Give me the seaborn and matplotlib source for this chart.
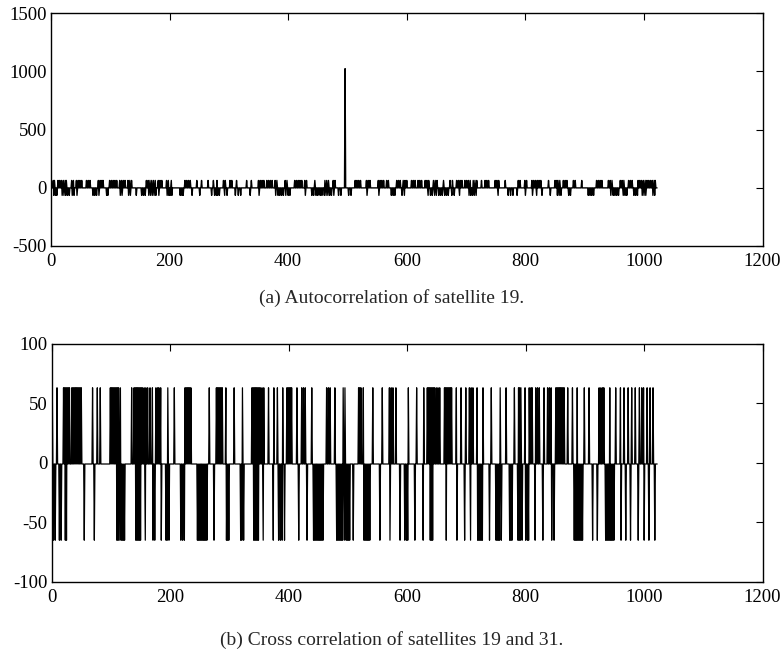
import numpy as np
import pandas as pd
import matplotlib
matplotlib.use("Agg")
import matplotlib.pyplot as plt
import seaborn as sns

# code length (chips) and the three correlation levels of a Gold code
n_chips = 1023
base_level = -1
high_level = 63
low_level = -65

# (a) autocorrelation of satellite 19: main peak and side lobes
peak_lag_a = 496
peak_value_a = 1023
up_lags_a = [4, 6, 12, 15, 18, 21, 24, 26, 35, 38, 43, 46, 49, 52, 60, 63, 66,
             80, 83, 86, 88, 99, 102, 105, 108, 111, 116, 119, 122, 125, 130,
             133, 136, 161, 164, 167, 170, 173, 176, 181, 184, 187, 195, 198,
             203, 226, 229, 232, 235, 246, 254, 265, 274, 280, 291, 294, 302,
             305, 313, 330, 338, 350, 353, 356, 359, 364, 367, 370, 373, 378,
             381, 395, 398, 411, 414, 417, 420, 423, 428, 431, 445, 462, 465,
             468, 476, 479, 513, 516, 519, 522, 532, 535, 538, 552, 555, 558,
             561, 566, 569, 583, 586, 589, 594, 597, 600, 608, 611, 614, 619,
             622, 625, 631, 634, 637, 645, 648, 651, 662, 673, 677, 684, 687,
             690, 693, 698, 701, 704, 707, 712, 715, 718, 726, 732, 735, 738,
             749, 752, 755, 766, 788, 791, 799, 802, 811, 814, 817, 820, 823,
             826, 839, 850, 853, 855, 858, 864, 867, 870, 881, 884, 895, 920,
             923, 926, 929, 940, 943, 946, 960, 963, 966, 974, 977, 980, 990,
             993, 996, 999, 1002, 1005, 1008, 1011, 1014, 1017, 1019]
down_lags_a = [5, 8, 10, 19, 22, 25, 28, 31, 36, 39, 44, 71, 74, 77, 81, 94, 96,
               117, 120, 131, 134, 144, 153, 156, 159, 165, 168, 171, 174, 177,
               182, 196, 199, 201, 204, 218, 221, 223, 238, 251, 271, 276, 279,
               281, 284, 293, 297, 311, 316, 320, 336, 351, 379, 383, 386, 389,
               392, 396, 400, 403, 429, 440, 443, 447, 450, 454, 457, 461, 464,
               467, 470, 473, 477, 485, 489, 502, 506, 533, 553, 574, 577, 580,
               592, 596, 636, 640, 643, 647, 650, 654, 657, 660, 664, 667, 670,
               676, 680, 689, 705, 708, 711, 714, 717, 754, 771, 775, 779, 786,
               800, 812, 819, 828, 842, 854, 857, 860, 873, 876, 906, 909, 912,
               915, 944, 948, 951, 954, 957, 965, 968, 971, 983, 986, 989, 997,
               1000, 1003, 1015, 1018]

# (b) cross correlation of satellites 19 and 31
up_lags_b = [1, 9, 20, 22, 24, 26, 28, 30, 34, 36, 38, 40, 42, 44, 46, 48, 50,
             69, 77, 82, 99, 101, 103, 105, 107, 109, 111, 113, 116, 135, 139,
             141, 143, 145, 147, 149, 151, 153, 156, 159, 162, 166, 170, 176,
             179, 181, 184, 196, 207, 225, 227, 229, 231, 233, 235, 266, 278,
             280, 282, 284, 286, 288, 294, 308, 322, 338, 340, 342, 344, 346,
             348, 350, 352, 355, 358, 366, 375, 381, 390, 397, 399, 401, 403,
             405, 414, 422, 425, 428, 439, 464, 467, 470, 478, 492, 495, 518,
             520, 522, 526, 542, 558, 570, 573, 576, 581, 602, 616, 628, 634,
             636, 638, 640, 642, 644, 646, 649, 652, 655, 663, 665, 667, 669,
             671, 673, 675, 683, 691, 699, 705, 708, 711, 718, 728, 742, 757,
             767, 781, 788, 790, 792, 799, 806, 809, 811, 817, 820, 823, 831,
             837, 840, 843, 851, 853, 855, 857, 859, 861, 863, 865, 871, 879,
             887, 899, 907, 924, 927, 930, 932, 942, 952, 960, 966, 973, 979,
             985, 992, 996, 999, 1005, 1010, 1015]
down_lags_b = [3, 6, 13, 16, 23, 25, 55, 72, 110, 112, 114, 117, 119, 121, 123,
               142, 144, 146, 148, 150, 158, 171, 174, 185, 193, 195, 198, 218,
               221, 224, 246, 248, 250, 252, 254, 256, 258, 260, 262, 274, 295,
               297, 299, 319, 321, 324, 341, 343, 345, 347, 349, 357, 374, 383,
               386, 389, 393, 417, 431, 442, 444, 446, 448, 450, 452, 454, 456,
               458, 481, 483, 485, 487, 489, 491, 494, 497, 499, 501, 503, 509,
               527, 529, 531, 533, 535, 537, 554, 571, 588, 596, 599, 601, 613,
               627, 639, 641, 643, 666, 684, 697, 707, 719, 721, 723, 725, 727,
               739, 750, 752, 754, 756, 759, 773, 775, 777, 787, 789, 791, 794,
               800, 803, 805, 816, 829, 844, 848, 882, 884, 886, 888, 890, 892,
               894, 896, 913, 921, 935, 937, 939, 941, 943, 945, 947, 949, 961,
               969, 977, 990, 1000, 1008, 1018]

x_ticks = [0, 200, 400, 600, 800, 1000, 1200]
y_ticks_a = [-500, 0, 500, 1000, 1500]
y_ticks_b = [-100, -50, 0, 50, 100]
caption_a = "(a) Autocorrelation of satellite 19."
caption_b = "(b) Cross correlation of satellites 19 and 31."


def build(up, down, peak=None):
    y = np.full(n_chips, base_level)
    y[up] = high_level
    y[down] = low_level
    if peak is not None:
        y[peak[0]] = peak[1]
    return pd.DataFrame({"lag": np.arange(n_chips), "corr": y})


df_a = build(up_lags_a, down_lags_a, (peak_lag_a, peak_value_a))
df_b = build(up_lags_b, down_lags_b)

sns.set_style("white")
plt.rcParams["font.family"] = ["Liberation Serif", "DejaVu Serif"]
plt.rcParams["axes.unicode_minus"] = False

fig = plt.figure(figsize=(7.83, 6.56), dpi=100)
ax_a = fig.add_axes([0.065, 0.625, 0.909, 0.355])
ax_b = fig.add_axes([0.066, 0.113, 0.908, 0.363])

sns.lineplot(data=df_a, x="lag", y="corr", ax=ax_a, color="black",
             linewidth=1.0, estimator=None)
sns.lineplot(data=df_b, x="lag", y="corr", ax=ax_b, color="black",
             linewidth=0.9, estimator=None)

for ax, yt in [(ax_a, y_ticks_a), (ax_b, y_ticks_b)]:
    ax.set_xlim(x_ticks[0], x_ticks[-1])
    ax.set_ylim(yt[0], yt[-1])
    ax.set_xticks(x_ticks)
    ax.set_yticks(yt)
    ax.set_xlabel("")
    ax.set_ylabel("")
    ax.tick_params(direction="in", top=True, right=True, length=5,
                   width=0.8, labelsize=13.5, colors="black")
    ax.tick_params(axis="x", pad=5)
    ax.tick_params(axis="y", pad=3)
    for s in ax.spines.values():
        s.set_color("black")
        s.set_linewidth(1.0)

fig.text(0.5, 1 - 298 / 656, caption_a, ha="center", va="center", fontsize=14)
fig.text(0.5, 1 - 640 / 656, caption_b, ha="center", va="center", fontsize=14)

fig.savefig("out.png", dpi=100, facecolor="white")
